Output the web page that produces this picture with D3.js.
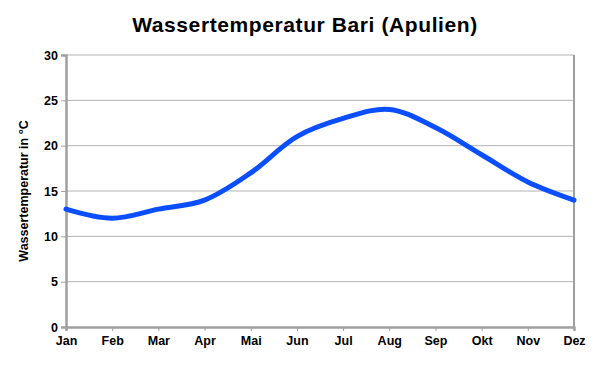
<!DOCTYPE html>
<html>
<head>
<meta charset="utf-8">
<script src="https://cdn.jsdelivr.net/npm/d3@7"></script>
<style>
  body { margin: 0; background: #fff; }
  text { font-family: "Liberation Sans", Arial, sans-serif; font-weight: bold; }
</style>
</head>
<body>
<div id="chart"></div>
<script>
var months = ["Jan","Feb","Mar","Apr","Mai","Jun","Jul","Aug","Sep","Okt","Nov","Dez"];
var temps = [13, 12, 13, 14, 17, 21, 23, 24, 22, 19, 16, 14];
var yTicks = [0, 5, 10, 15, 20, 25, 30];

var width = 595, height = 372;
var margin = {top: 55, right: 21, bottom: 45, left: 66};

var svg = d3.select("#chart").append("svg")
  .attr("width", width)
  .attr("height", height);

var x = d3.scalePoint()
  .domain(months)
  .range([margin.left, width - margin.right]);

var y = d3.scaleLinear()
  .domain([0, 30])
  .range([height - margin.bottom, margin.top]);

// gridlines
svg.append("g")
  .selectAll("line")
  .data(yTicks.slice(1))
  .enter().append("line")
  .attr("x1", margin.left)
  .attr("x2", width - margin.right)
  .attr("y1", d => y(d))
  .attr("y2", d => y(d))
  .attr("stroke", "#b3b3b3")
  .attr("stroke-width", 1);

// right border
svg.append("line")
  .attr("x1", width - margin.right).attr("x2", width - margin.right)
  .attr("y1", y(30)).attr("y2", y(0))
  .attr("stroke", "#a0a0a0").attr("stroke-width", 2);

var yAxis = svg.append("g")
  .attr("transform", "translate(" + margin.left + ",0)")
  .call(d3.axisLeft(y).tickValues(yTicks).tickSize(5).tickPadding(3));

var xAxis = svg.append("g")
  .attr("transform", "translate(0," + y(0) + ")")
  .call(d3.axisBottom(x).tickSize(4).tickPadding(5));

[yAxis, xAxis].forEach(function(a) {
  a.select(".domain").attr("stroke", "#a0a0a0").attr("stroke-width", 2.5);
  a.selectAll(".tick line").attr("stroke", "#a0a0a0");
  a.selectAll("text").attr("font-size", 12.5).attr("fill", "#000")
    .attr("font-family", "'Liberation Sans', Arial, sans-serif").attr("font-weight", "bold");
});

var line = d3.line()
  .x((d, i) => x(months[i]))
  .y(d => y(d))
  .curve(d3.curveCatmullRom.alpha(0.5));

svg.append("path")
  .datum(temps)
  .attr("d", line)
  .attr("fill", "none")
  .attr("stroke", "#0a4eff")
  .attr("stroke-width", 5)
  .attr("stroke-linecap", "round");

svg.append("text")
  .attr("x", 305)
  .attr("y", 32)
  .attr("text-anchor", "middle")
  .attr("font-size", 21)
  .attr("letter-spacing", 0.6)
  .text("Wassertemperatur Bari (Apulien)");

svg.append("text")
  .attr("transform", "translate(28," + ((y(0) + y(30)) / 2) + ") rotate(-90)")
  .attr("text-anchor", "middle")
  .attr("font-size", 12.5)
  .text("Wassertemperatur in °C");
</script>
</body>
</html>
